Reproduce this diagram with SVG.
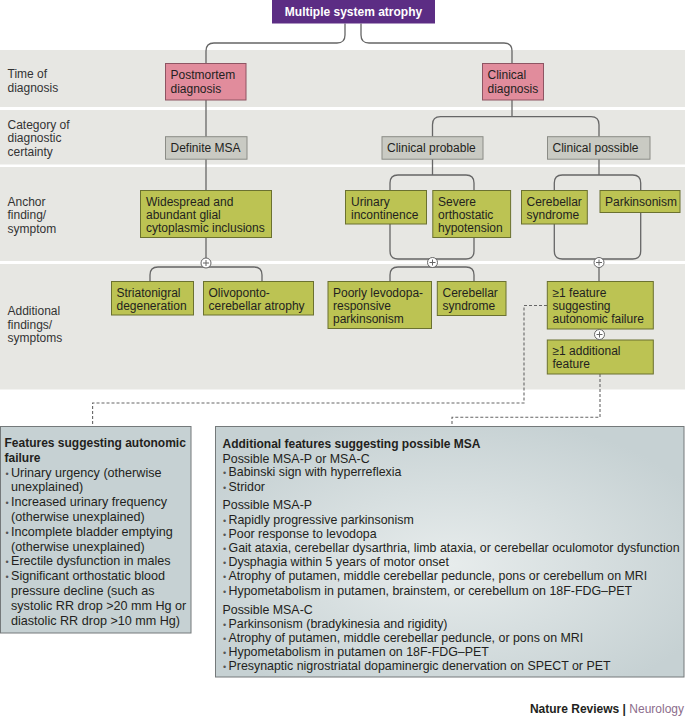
<svg xmlns="http://www.w3.org/2000/svg" width="685" height="718" viewBox="0 0 685 718">
<defs>
<style>
text{font-family:"Liberation Sans",Arial,sans-serif;fill:#231f20;font-size:12px}
.band{fill:#e7e7e3}
.pink{fill:#e18c9c;stroke:#8e5563;stroke-width:1}
.gray{fill:#c9cac3;stroke:#8b8c86;stroke-width:1}
.olive{fill:#bcc353;stroke:#6b7130;stroke-width:1}
.con{fill:none;stroke:#666;stroke-width:1.3}
.dash{fill:none;stroke:#666;stroke-width:1.1;stroke-dasharray:3 2}
.plus circle{fill:#fff;stroke:#666;stroke-width:1}
.plus path{stroke:#666;stroke-width:1}
.lbl{fill:#333}
.title{fill:#fff;font-weight:bold}
.hd{font-weight:bold}
.lt{font-size:12.6px}
.rt{font-size:12.4px}
.bul{font-size:9px;fill:#555}
.box{stroke:#74797a;stroke-width:1}
</style>
<radialGradient id="rg" cx="0.5" cy="0.55" r="0.6">
<stop offset="0" stop-color="#e7ecec"/>
<stop offset="1" stop-color="#c6d1d3"/>
</radialGradient>
</defs>

<g id="bands">
<rect class="band" x="0" y="50" width="685" height="57"/>
<rect class="band" x="0" y="110" width="685" height="54.5"/>
<rect class="band" x="0" y="167" width="685" height="94"/>
<rect class="band" x="0" y="264" width="685" height="125.5"/>
</g>

<g id="row-labels" class="lbl">
<text class="lbl" x="7.5" y="78">Time of</text>
<text class="lbl" x="7.5" y="92">diagnosis</text>
<text class="lbl" x="7.5" y="128.5">Category of</text>
<text class="lbl" x="7.5" y="142">diagnostic</text>
<text class="lbl" x="7.5" y="156">certainty</text>
<text class="lbl" x="7.5" y="205.5">Anchor</text>
<text class="lbl" x="7.5" y="219">finding/</text>
<text class="lbl" x="7.5" y="232.5">symptom</text>
<text class="lbl" x="7.5" y="314.5">Additional</text>
<text class="lbl" x="7.5" y="328.5">findings/</text>
<text class="lbl" x="7.5" y="342">symptoms</text>
</g>

<g id="connectors">
<path class="con" d="M345,23.5 V35 Q345,43 337,43 H214 Q206,43 206,51 V63"/>
<path class="con" d="M361,23.5 V35 Q361,43 369,43 H504 Q512,43 512,51 V63"/>
<path class="con" d="M206,100 V263"/>
<path class="con" d="M150,281.5 V275 Q150,267 158,267 H254 Q262,267 262,275 V281.5"/>
<path class="con" d="M512,100 V116.7"/>
<path class="con" d="M432.5,136.7 V124.7 Q432.5,116.7 440.5,116.7 H591 Q599,116.7 599,124.7 V136.7"/>
<path class="con" d="M432.5,159 V175"/>
<path class="con" d="M398,175 H466 Q474,175 474,183 V251 Q474,259 466,259 H398 Q390,259 390,251 V183 Q390,175 398,175 Z"/>
<path class="con" d="M599,159 V175"/>
<path class="con" d="M562.3,175 H632.7 Q640.7,175 640.7,183 V251 Q640.7,259 632.7,259 H562.3 Q554.3,259 554.3,251 V183 Q554.3,175 562.3,175 Z"/>
<path class="con" d="M390,281.5 V275 Q390,267 398,267 H466 Q474,267 474,275 V281.5"/>
<path class="con" d="M432.5,259 V267"/>
<path class="con" d="M599,259 V281.5"/>
<path class="dash" d="M547,305.5 H524 V403 H92.6 V426"/>
<path class="dash" d="M600,374 V417.3 H452 V426.5"/>
</g>

<g id="title-node">
<rect x="272" y="0" width="163" height="23.5" fill="#5c2d84"/>
<text class="title" x="353.5" y="16" text-anchor="middle">Multiple system atrophy</text>
</g>

<g id="postmortem">
<rect class="pink" x="165.5" y="63.5" width="80.5" height="36.5"/>
<text x="170.5" y="79.3">Postmortem</text>
<text x="170.5" y="92.6">diagnosis</text>
</g>
<g id="clinical">
<rect class="pink" x="482.5" y="63.5" width="61" height="36.5"/>
<text x="487.5" y="79.3">Clinical</text>
<text x="487.5" y="92.6">diagnosis</text>
</g>

<g id="definite">
<rect class="gray" x="165.5" y="136.7" width="81.5" height="22.5"/>
<text x="170.5" y="152">Definite MSA</text>
</g>
<g id="probable">
<rect class="gray" x="382" y="136.7" width="101" height="22.5"/>
<text x="387" y="152">Clinical probable</text>
</g>
<g id="possible">
<rect class="gray" x="547.5" y="136.7" width="102.5" height="22.5"/>
<text x="552.5" y="152">Clinical possible</text>
</g>

<g id="widespread">
<rect class="olive" x="140.5" y="190.5" width="131" height="47"/>
<text x="146" y="205.5">Widespread and</text>
<text x="146" y="218.8">abundant glial</text>
<text x="146" y="232.1">cytoplasmic inclusions</text>
</g>
<g id="urinary">
<rect class="olive" x="345.5" y="190.5" width="81" height="33.5"/>
<text x="351" y="205.5">Urinary</text>
<text x="351" y="218.8">incontinence</text>
</g>
<g id="severe">
<rect class="olive" x="432.8" y="190.5" width="77.8" height="47"/>
<text x="438" y="205.5">Severe</text>
<text x="438" y="218.8">orthostatic</text>
<text x="438" y="232.1">hypotension</text>
</g>
<g id="cerebellar-anchor">
<rect class="olive" x="521.5" y="190.5" width="65.8" height="33.5"/>
<text x="526.5" y="205.5">Cerebellar</text>
<text x="526.5" y="218.8">syndrome</text>
</g>
<g id="parkinsonism">
<rect class="olive" x="600" y="190.5" width="80" height="22"/>
<text x="605" y="205.5">Parkinsonism</text>
</g>

<g id="striatonigral">
<rect class="olive" x="111.5" y="281.5" width="82" height="33.5"/>
<text x="116.5" y="296.5">Striatonigral</text>
<text x="116.5" y="309.8">degeneration</text>
</g>
<g id="olivoponto">
<rect class="olive" x="203.5" y="281.5" width="110" height="33.5"/>
<text x="208.5" y="296.5">Olivoponto-</text>
<text x="208.5" y="309.8">cerebellar atrophy</text>
</g>
<g id="poorly">
<rect class="olive" x="328" y="281.5" width="103.5" height="47"/>
<text x="333" y="296.5">Poorly levodopa-</text>
<text x="333" y="309.8">responsive</text>
<text x="333" y="323.1">parkinsonism</text>
</g>
<g id="cerebellar-additional">
<rect class="olive" x="437.3" y="281.5" width="68.7" height="34"/>
<text x="442.5" y="296.5">Cerebellar</text>
<text x="442.5" y="309.8">syndrome</text>
</g>
<g id="autonomic-feature">
<rect class="olive" x="547.3" y="281.5" width="106" height="47.5"/>
<text x="552.5" y="296.5">≥1 feature</text>
<text x="552.5" y="309.8">suggesting</text>
<text x="552.5" y="323.1">autonomic failure</text>
</g>
<g id="additional-feature">
<rect class="olive" x="547.3" y="340" width="106" height="34"/>
<text x="552.5" y="355">≥1 additional</text>
<text x="552.5" y="368.3">feature</text>
</g>

<g id="plus-signs" class="plus">
<g transform="translate(206,263)"><circle r="5"/><path d="M-3,0 H3 M0,-3 V3"/></g>
<g transform="translate(432.5,262.5)"><circle r="5"/><path d="M-3,0 H3 M0,-3 V3"/></g>
<g transform="translate(599,262.5)"><circle r="5"/><path d="M-3,0 H3 M0,-3 V3"/></g>
<g transform="translate(599.5,334.5)"><circle r="5"/><path d="M-3,0 H3 M0,-3 V3"/></g>
</g>

<g id="autonomic-box">
<rect class="box" x="0.5" y="426.5" width="190.5" height="206.5" fill="#c6d1d3"/>
<text class="hd" x="4.5" y="447">Features suggesting autonomic</text>
<text class="hd" x="4.5" y="461.8">failure</text>
<text class="lt" y="476.6"><tspan class="bul" x="5.5">•</tspan><tspan x="11">Urinary urgency (otherwise</tspan></text>
<text class="lt" x="11" y="491.4">unexplained)</text>
<text class="lt" y="506.2"><tspan class="bul" x="5.5">•</tspan><tspan x="11">Increased urinary frequency</tspan></text>
<text class="lt" x="11" y="521">(otherwise unexplained)</text>
<text class="lt" y="535.8"><tspan class="bul" x="5.5">•</tspan><tspan x="11">Incomplete bladder emptying</tspan></text>
<text class="lt" x="11" y="550.6">(otherwise unexplained)</text>
<text class="lt" y="565.4"><tspan class="bul" x="5.5">•</tspan><tspan x="11">Erectile dysfunction in males</tspan></text>
<text class="lt" y="580.2"><tspan class="bul" x="5.5">•</tspan><tspan x="11">Significant orthostatic blood</tspan></text>
<text class="lt" x="11" y="595">pressure decline (such as</text>
<text class="lt" x="11" y="609.8">systolic RR drop &gt;20 mm Hg or</text>
<text class="lt" x="11" y="624.6">diastolic RR drop &gt;10 mm Hg)</text>
</g>

<g id="possible-msa-box">
<rect class="box" x="215.5" y="426.5" width="468.5" height="250.5" fill="url(#rg)"/>
<text class="hd" x="222.5" y="447.5">Additional features suggesting possible MSA</text>
<text class="rt" x="222.5" y="462.5">Possible MSA-P or MSA-C</text>
<text class="rt" y="476.3"><tspan class="bul" x="223">•</tspan><tspan x="228.5">Babinski sign with hyperreflexia</tspan></text>
<text class="rt" y="490.5"><tspan class="bul" x="223">•</tspan><tspan x="228.5">Stridor</tspan></text>
<text class="rt" x="222.5" y="509.4">Possible MSA-P</text>
<text class="rt" y="523.6"><tspan class="bul" x="223">•</tspan><tspan x="228.5">Rapidly progressive parkinsonism</tspan></text>
<text class="rt" y="537.8"><tspan class="bul" x="223">•</tspan><tspan x="228.5">Poor response to levodopa</tspan></text>
<text class="rt" y="552"><tspan class="bul" x="223">•</tspan><tspan x="228.5">Gait ataxia, cerebellar dysarthria, limb ataxia, or cerebellar oculomotor dysfunction</tspan></text>
<text class="rt" y="566.2"><tspan class="bul" x="223">•</tspan><tspan x="228.5">Dysphagia within 5 years of motor onset</tspan></text>
<text class="rt" y="580.4"><tspan class="bul" x="223">•</tspan><tspan x="228.5">Atrophy of putamen, middle cerebellar peduncle, pons or cerebellum on MRI</tspan></text>
<text class="rt" y="594.6"><tspan class="bul" x="223">•</tspan><tspan x="228.5">Hypometabolism in putamen, brainstem, or cerebellum on 18F-FDG–PET</tspan></text>
<text class="rt" x="222.5" y="613.6">Possible MSA-C</text>
<text class="rt" y="627.8"><tspan class="bul" x="223">•</tspan><tspan x="228.5">Parkinsonism (bradykinesia and rigidity)</tspan></text>
<text class="rt" y="642"><tspan class="bul" x="223">•</tspan><tspan x="228.5">Atrophy of putamen, middle cerebellar peduncle, or pons on MRI</tspan></text>
<text class="rt" y="656.2"><tspan class="bul" x="223">•</tspan><tspan x="228.5">Hypometabolism in putamen on 18F-FDG–PET</tspan></text>
<text class="rt" y="670.4"><tspan class="bul" x="223">•</tspan><tspan x="228.5">Presynaptic nigrostriatal dopaminergic denervation on SPECT or PET</tspan></text>
</g>

<g id="footer">
<text x="684" y="713" text-anchor="end"><tspan font-weight="bold">Nature Reviews | </tspan><tspan fill="#8c6d8c">Neurology</tspan></text>
</g>
</svg>
